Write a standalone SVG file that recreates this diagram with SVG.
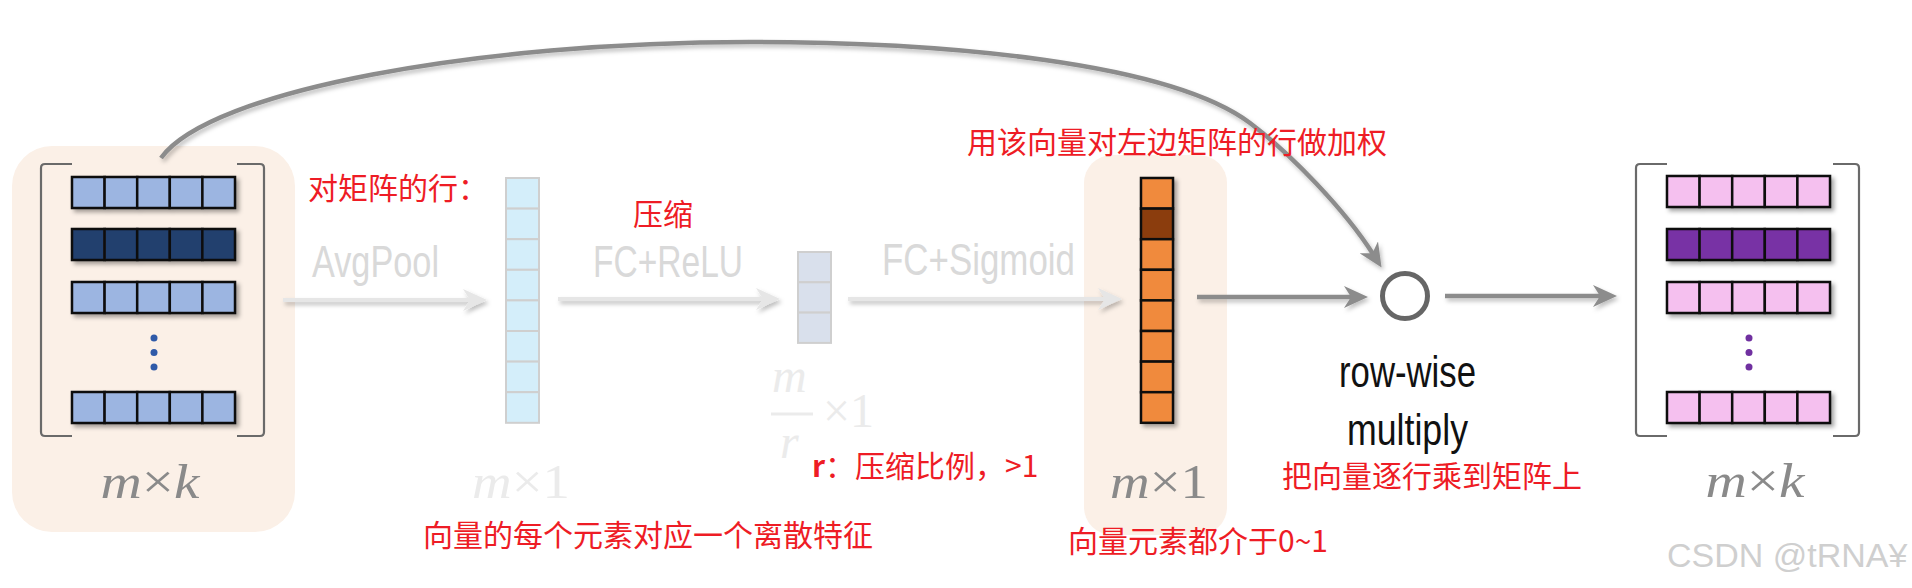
<svg xmlns="http://www.w3.org/2000/svg" xmlns:xlink="http://www.w3.org/1999/xlink" width="1912" height="588" viewBox="0 0 1912 588">
<style>
.cjk{font-family:"Noto Sans CJK SC","Liberation Sans",sans-serif;font-size:30px;fill:#ee1c25}
.lbl{font-family:"Liberation Sans",sans-serif;font-size:44px;fill:#d9d9d9}
.blk{font-family:"Liberation Sans",sans-serif;font-size:44px;fill:#111}
.math{font-family:"Liberation Serif",serif;font-size:48px}
.mg{fill:#8a8a8a}
.ml{fill:#ebebeb}
.brk{fill:none;stroke:#6a6a6a;stroke-width:2.2}
.bg{fill:#fbf0e7}
.cell{stroke:#111;stroke-width:2.5}
.lcell{stroke:#cfcfcf;stroke-width:2}
.garr{fill:none;stroke:#8c8c8c;stroke-width:4.5}
.larr{fill:none;stroke:#e6e6e6;stroke-width:4}
</style>
<defs>
<filter id="sh" x="-20%" y="-20%" width="150%" height="160%">
<feDropShadow dx="3" dy="3" stdDeviation="2" flood-color="#000" flood-opacity="0.35"/>
</filter>
<filter id="lsh" filterUnits="userSpaceOnUse" x="0" y="0" width="1912" height="588">
<feDropShadow dx="2" dy="3" stdDeviation="2" flood-color="#000" flood-opacity="0.25"/>
</filter>
<g id="row">
<rect class="cell" x="0" y="0" width="32.6" height="31"/>
<rect class="cell" x="32.6" y="0" width="32.6" height="31"/>
<rect class="cell" x="65.2" y="0" width="32.6" height="31"/>
<rect class="cell" x="97.8" y="0" width="32.6" height="31"/>
<rect class="cell" x="130.4" y="0" width="32.6" height="31"/>
</g>
<marker id="ag" markerUnits="userSpaceOnUse" markerWidth="24" markerHeight="22" viewBox="0 0 24 22" refX="8" refY="11" orient="auto">
<path d="M0,0 L24,11 L0,22 L7,11 z" fill="#8c8c8c"/>
</marker>
<marker id="al" markerUnits="userSpaceOnUse" markerWidth="24" markerHeight="22" viewBox="0 0 24 22" refX="8" refY="11" orient="auto">
<path d="M0,0 L24,11 L0,22 L7,11 z" fill="#e6e6e6"/>
</marker>
</defs>
<rect width="1912" height="588" fill="#fff"/>

<g id="input-matrix">
<rect class="bg" x="12" y="146" width="283" height="386" rx="40"/>
<path class="brk" d="M72,164 L45,164 Q41,164 41,168 L41,432 Q41,436 45,436 L72,436"/>
<path class="brk" d="M237,164 L260,164 Q264,164 264,168 L264,432 Q264,436 260,436 L237,436"/>
<use href="#row" x="72" y="177" fill="#9cb5e1" filter="url(#sh)"/>
<use href="#row" x="72" y="229" fill="#223f6e" filter="url(#sh)"/>
<use href="#row" x="72" y="282" fill="#9cb5e1" filter="url(#sh)"/>
<use href="#row" x="72" y="392" fill="#9cb5e1" filter="url(#sh)"/>
<circle cx="154" cy="338" r="3.5" fill="#2f5aa8"/>
<circle cx="154" cy="352.5" r="3.5" fill="#2f5aa8"/>
<circle cx="154" cy="367" r="3.5" fill="#2f5aa8"/>
<text class="math mg" x="150" y="498" text-anchor="middle" textLength="99" lengthAdjust="spacingAndGlyphs"><tspan font-style="italic">m</tspan>×<tspan font-style="italic">k</tspan></text>
</g>

<g id="pooled-vector">
<g fill="#d4eefa">
<rect class="lcell" x="506" y="178" width="33" height="30.6"/>
<rect class="lcell" x="506" y="208.6" width="33" height="30.6"/>
<rect class="lcell" x="506" y="239.2" width="33" height="30.6"/>
<rect class="lcell" x="506" y="269.8" width="33" height="30.6"/>
<rect class="lcell" x="506" y="300.4" width="33" height="30.6"/>
<rect class="lcell" x="506" y="331" width="33" height="30.6"/>
<rect class="lcell" x="506" y="361.6" width="33" height="30.6"/>
<rect class="lcell" x="506" y="392.2" width="33" height="30.6"/>
</g>
<text class="math ml" x="521" y="498" text-anchor="middle" textLength="98" lengthAdjust="spacingAndGlyphs"><tspan font-style="italic">m</tspan>×1</text>
</g>

<g id="squeezed-vector">
<g fill="#d9e0ec">
<rect class="lcell" x="798" y="252" width="33" height="30.3"/>
<rect class="lcell" x="798" y="282.3" width="33" height="30.3"/>
<rect class="lcell" x="798" y="312.6" width="33" height="30.3"/>
</g>
<text class="math ml" x="772" y="392" font-style="italic">m</text>
<line x1="771" y1="414" x2="813" y2="414" stroke="#ebebeb" stroke-width="3"/>
<text class="math ml" x="780" y="458" font-style="italic">r</text>
<text class="math ml" x="823" y="427">×1</text>
</g>

<g id="weight-vector">
<rect class="bg" x="1084" y="155" width="143" height="380" rx="28"/>
<g filter="url(#sh)">
<rect class="cell" x="1141" y="178" width="32" height="30.6" fill="#f08a3c"/>
<rect class="cell" x="1141" y="208.6" width="32" height="30.6" fill="#8b3e0a"/>
<rect class="cell" x="1141" y="239.2" width="32" height="30.6" fill="#f08a3c"/>
<rect class="cell" x="1141" y="269.8" width="32" height="30.6" fill="#f08a3c"/>
<rect class="cell" x="1141" y="300.4" width="32" height="30.6" fill="#f08a3c"/>
<rect class="cell" x="1141" y="331" width="32" height="30.6" fill="#f08a3c"/>
<rect class="cell" x="1141" y="361.6" width="32" height="30.6" fill="#f08a3c"/>
<rect class="cell" x="1141" y="392.2" width="32" height="30.6" fill="#f08a3c"/>
</g>
<text class="math mg" x="1159" y="498" text-anchor="middle" textLength="98" lengthAdjust="spacingAndGlyphs"><tspan font-style="italic">m</tspan>×1</text>
</g>

<g id="multiply-node">
<circle cx="1405" cy="296" r="22.5" fill="#fff" stroke="#666" stroke-width="5"/>
<text class="blk" x="1339" y="387" textLength="137" lengthAdjust="spacingAndGlyphs">row-wise</text>
<text class="blk" x="1347" y="445" textLength="121" lengthAdjust="spacingAndGlyphs">multiply</text>
</g>

<g id="output-matrix">
<path class="brk" d="M1667,164 L1640,164 Q1636,164 1636,168 L1636,432 Q1636,436 1640,436 L1667,436"/>
<path class="brk" d="M1833,164 L1855,164 Q1859,164 1859,168 L1859,432 Q1859,436 1855,436 L1833,436"/>
<use href="#row" x="1667" y="176" fill="#f5c0ef" filter="url(#sh)"/>
<use href="#row" x="1667" y="229" fill="#7831a5" filter="url(#sh)"/>
<use href="#row" x="1667" y="282" fill="#f5c0ef" filter="url(#sh)"/>
<use href="#row" x="1667" y="392" fill="#f5c0ef" filter="url(#sh)"/>
<circle cx="1749" cy="338" r="3.5" fill="#7030a0"/>
<circle cx="1749" cy="352.5" r="3.5" fill="#7030a0"/>
<circle cx="1749" cy="367" r="3.5" fill="#7030a0"/>
<text class="math mg" x="1755" y="497" text-anchor="middle" textLength="99" lengthAdjust="spacingAndGlyphs"><tspan font-style="italic">m</tspan>×<tspan font-style="italic">k</tspan></text>
</g>

<g id="connectors">
<path class="larr" d="M283,300 L471,300" marker-end="url(#al)" filter="url(#lsh)"/>
<path class="larr" d="M558,299 L764,299" marker-end="url(#al)" filter="url(#lsh)"/>
<path class="larr" d="M848,299 L1106,299" marker-end="url(#al)" filter="url(#lsh)"/>
<path class="garr" d="M1197,297 L1352,297" marker-end="url(#ag)" filter="url(#lsh)"/>
<path class="garr" d="M1445,296 L1601,296" marker-end="url(#ag)" filter="url(#lsh)"/>
<path class="garr" d="M161,158 C210,90 480,42 750,42 C950,42 1170,63 1250,123 C1290,153 1345,210 1373,254" marker-end="url(#ag)" filter="url(#lsh)"/>
</g>

<g id="labels">
<text class="lbl" x="312" y="277" textLength="127" lengthAdjust="spacingAndGlyphs">AvgPool</text>
<text class="lbl" x="593" y="277" textLength="150" lengthAdjust="spacingAndGlyphs">FC+ReLU</text>
<text class="lbl" x="882" y="275" textLength="193" lengthAdjust="spacingAndGlyphs">FC+Sigmoid</text>
<text class="cjk" x="308" y="199">对矩阵的行：</text>
<text class="cjk" x="633" y="225">压缩</text>
<text class="cjk" x="967" y="153">用该向量对左边矩阵的行做加权</text>
<text class="cjk" x="423" y="546">向量的每个元素对应一个离散特征</text>
<text class="cjk" x="812" y="477"><tspan font-weight="bold">r</tspan>：压缩比例，&gt;1</text>
<text class="cjk" x="1068" y="552">向量元素都介于0~1</text>
<text class="cjk" x="1282" y="487">把向量逐行乘到矩阵上</text>
<text x="1667" y="567" font-family="Liberation Sans, sans-serif" font-size="34" fill="#cfcfcf">CSDN @tRNA¥</text>
</g>
</svg>
